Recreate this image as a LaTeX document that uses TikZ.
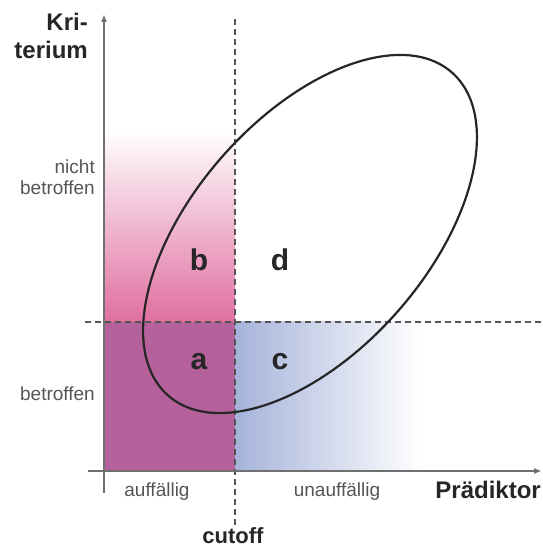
\documentclass[tikz,border=0pt]{standalone}
\usepackage{fontspec}
\setmainfont{Liberation Sans}
\usetikzlibrary{arrows.meta}
\definecolor{purp}{HTML}{B5629C}
\definecolor{pinkc}{HTML}{E06FA0}
\definecolor{bluec}{HTML}{A6B3DA}
\definecolor{axisc}{HTML}{707070}
\definecolor{dashc}{HTML}{555555}
\definecolor{labc}{HTML}{555555}
\tikzset{
  axisline/.style={draw=axisc, line width=1.6pt},
  cutline/.style={draw=dashc, line width=1.3pt, dash pattern=on 6pt off 4pt},
  biglab/.style={font=\fontsize{24}{26}\selectfont\bfseries, text=black!85, inner sep=0pt},
  smalllab/.style={font=\fontsize{19}{21}\selectfont, text=labc, inner sep=0pt},
  cell/.style={font=\fontsize{30}{32}\selectfont\bfseries, text=black!85, inner sep=0pt},
}
\begin{document}
\begin{tikzpicture}[x=1pt,y=1pt]
\useasboundingbox (0,0) rectangle (543,547);
% fills
\shade[top color=white, bottom color=pinkc] (104,225) rectangle (235,417);
\fill[purp] (104,76) rectangle (235,225);
\shade[left color=bluec, right color=white] (235,76) rectangle (420,225);
% dashed lines
\coordinate (ct) at (235,529);
\coordinate (cb) at (235,22);
\coordinate (hl) at (85,225);
\coordinate (hr) at (543,225);
\draw[cutline] (cb) -- (ct);
\draw[cutline] (hl) -- (hr);
% axes
\coordinate (yb) at (104,54);
\coordinate (yt) at (104,533);
\coordinate (xl) at (88,76);
\coordinate (xr) at (542,76);
\draw[axisline, -{Latex[length=8pt,width=6pt]}] (yb) -- (yt);
\draw[axisline, -{Latex[length=8pt,width=6pt]}] (xl) -- (xr);
% ellipse
\draw[black!85, line width=2.2pt, rotate around={48.7:(310,313)}] (310,313) ellipse [x radius=215, y radius=117];
% labels
\node[biglab, anchor=base east] (k1) at (88,516) {Kri-};
\node[biglab, anchor=base east] (k2) at (88,488) {terium};
\node[biglab, anchor=base east] (pr) at (541,48) {Prädiktor};
\node[biglab, anchor=base, font=\fontsize{22}{24}\selectfont\bfseries] (co) at (233,4) {cutoff};
\node[smalllab, anchor=base east] (n1) at (95,373) {nicht};
\node[smalllab, anchor=base east] (n2) at (95,352) {betroffen};
\node[smalllab, anchor=base east] (bt) at (95,146) {betroffen};
\node[smalllab, anchor=base] (au) at (157,50) {auffällig};
\node[smalllab, anchor=base] (un) at (337,50) {unauffällig};
\node[cell, anchor=base] (a) at (199,177) {a};
\node[cell, anchor=base] (b) at (199,276) {b};
\node[cell, anchor=base] (c) at (280,177) {c};
\node[cell, anchor=base] (d) at (280,276) {d};
\end{tikzpicture}
\end{document}
